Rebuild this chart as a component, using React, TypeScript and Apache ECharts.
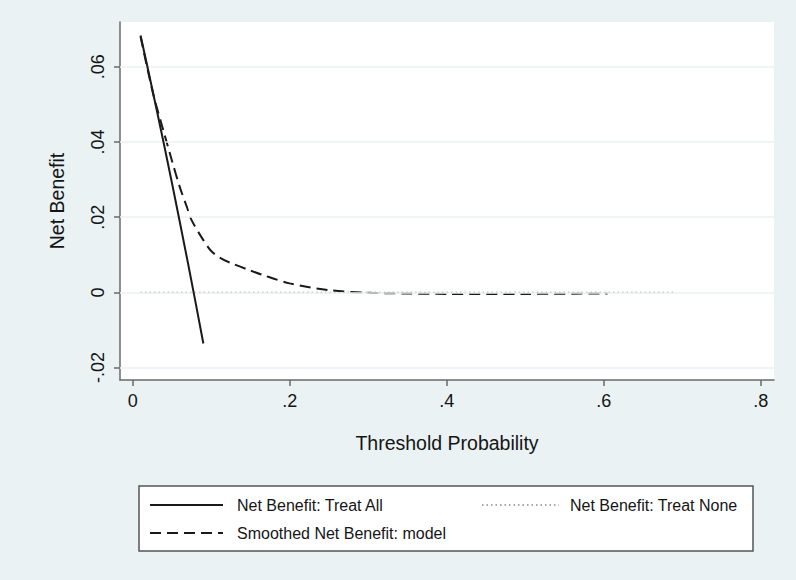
import React, { useEffect, useRef } from "react";
import * as echarts from "echarts";

// Threshold probabilities and net benefit values
const treatAllX = [0.01, 0.02, 0.03, 0.04, 0.05, 0.06, 0.07, 0.08, 0.09];
const treatAllY = [0.0683, 0.0588, 0.0491, 0.0392, 0.0291, 0.0187, 0.0082, -0.0026, -0.0136];

const treatNoneX = [0.01, 0.69];
const treatNoneY = [0, 0];

const modelX = [0.01, 0.026, 0.039, 0.05, 0.06, 0.069, 0.075, 0.09, 0.1, 0.112, 0.124, 0.15, 0.166, 0.2, 0.25, 0.3, 0.35, 0.4, 0.5, 0.6, 0.605];
const modelY = [0.068, 0.0528, 0.0431, 0.035, 0.028, 0.0227, 0.0192, 0.0139, 0.011, 0.0091, 0.0079, 0.0058, 0.0046, 0.0024, 0.0006, -0.0001, -0.0003, -0.0004, -0.0004, -0.0003, -0.0003];

const xTicks = [0, 0.2, 0.4, 0.6, 0.8];
const yTicks = [-0.02, 0, 0.02, 0.04, 0.06];

const legendLabels = ["Net Benefit: Treat All", "Net Benefit: Treat None", "Smoothed Net Benefit: model"];

const fmt = (v: number) => {
  if (Math.abs(v) < 1e-9) return "0";
  const s = String(Math.round(v * 100) / 100);
  return s.replace("0.", ".");
};

const BG = "#eaf2f3";
const FONT = "Liberation Sans, Arial, sans-serif";
const TXT = "#151515";

export default function App() {
  const ref = useRef<HTMLDivElement>(null);
  useEffect(() => {
    if (!ref.current) return;
    const chart = echarts.init(ref.current, undefined, { renderer: "svg" });
    const zip = (xs: number[], ys: number[]) => xs.map((x, i) => [x, ys[i]]);
    chart.setOption({
      animation: false,
      backgroundColor: BG,
      textStyle: { fontFamily: FONT },
      grid: {
        left: 120,
        top: 22,
        right: 22,
        bottom: 200,
        show: true,
        backgroundColor: "#ffffff",
        borderWidth: 0,
      },
      xAxis: {
        type: "value",
        min: -0.0162,
        max: 0.817,
        name: "Threshold Probability",
        nameLocation: "middle",
        nameGap: 53,
        nameTextStyle: { fontSize: 19.5, color: TXT, fontFamily: FONT },
        axisLine: { show: true, onZero: false, lineStyle: { color: "#6a6a6a", width: 1.5 } },
        axisTick: { show: true, length: 6, customValues: xTicks, lineStyle: { color: "#6a6a6a", width: 1.5 } },
        axisLabel: { customValues: xTicks, formatter: (v: number) => fmt(v), fontSize: 18, color: TXT, margin: 12, fontFamily: FONT },
        splitLine: { show: false },
      },
      yAxis: {
        type: "value",
        min: -0.0233,
        max: 0.0719,
        name: "Net Benefit",
        nameLocation: "middle",
        nameGap: 53,
        nameTextStyle: { fontSize: 19.5, color: TXT, fontFamily: FONT },
        axisLine: { show: true, onZero: false, lineStyle: { color: "#6a6a6a", width: 1.5 } },
        axisTick: { show: true, length: 6, customValues: yTicks, lineStyle: { color: "#6a6a6a", width: 1.5 } },
        axisLabel: { customValues: yTicks, formatter: (v: number) => fmt(v), rotate: 90, fontSize: 18, color: TXT, margin: 13, fontFamily: FONT },
        splitLine: { show: false },
      },
      series: [
        {
          name: "grid",
          type: "line",
          data: [],
          silent: true,
          markLine: {
            silent: true,
            symbol: "none",
            label: { show: false },
            lineStyle: { color: BG, width: 1.5, type: "solid" },
            data: yTicks.map((v) => ({ yAxis: v })),
          },
        },
        {
          name: legendLabels[1],
          type: "line",
          data: zip(treatNoneX, treatNoneY),
          showSymbol: false,
          lineStyle: { color: "#8a8a8a", width: 1.5, type: [1.5, 3] },
          z: 3,
        },
        {
          name: legendLabels[2],
          type: "line",
          data: zip(modelX, modelY),
          showSymbol: false,
          smooth: 0.3,
          lineStyle: { color: "#1a1a1a", width: 2, type: [11, 6] },
          z: 4,
        },
        {
          name: legendLabels[0],
          type: "line",
          data: zip(treatAllX, treatAllY),
          showSymbol: false,
          lineStyle: { color: "#1a1a1a", width: 2, type: "solid" },
          z: 5,
        },
      ],
      graphic: [
        {
          type: "rect",
          shape: { x: 139, y: 486, width: 614, height: 65 },
          style: { fill: "#ffffff", stroke: "#555555", lineWidth: 1.5 },
        },
        {
          type: "line",
          shape: { x1: 150, y1: 505, x2: 223, y2: 505 },
          style: { stroke: "#1a1a1a", lineWidth: 2 },
        },
        {
          type: "text",
          x: 237,
          y: 505,
          style: { text: legendLabels[0], fill: TXT, font: `16px ${FONT}`, verticalAlign: "middle" },
        },
        {
          type: "line",
          shape: { x1: 482, y1: 505, x2: 559, y2: 505 },
          style: { stroke: "#8a8a8a", lineWidth: 1.5, lineDash: [1.5, 3] },
        },
        {
          type: "text",
          x: 570,
          y: 505,
          style: { text: legendLabels[1], fill: TXT, font: `16px ${FONT}`, verticalAlign: "middle" },
        },
        {
          type: "line",
          shape: { x1: 150, y1: 533, x2: 223, y2: 533 },
          style: { stroke: "#1a1a1a", lineWidth: 2, lineDash: [11, 6] },
        },
        {
          type: "text",
          x: 237,
          y: 533,
          style: { text: legendLabels[2], fill: TXT, font: `16px ${FONT}`, verticalAlign: "middle" },
        },
      ],
    });
    return () => chart.dispose();
  }, []);
  return (
    <div
      ref={ref}
      style={{ width: 796, height: 580, position: "absolute", left: 0, top: 0 }}
    />
  );
}
